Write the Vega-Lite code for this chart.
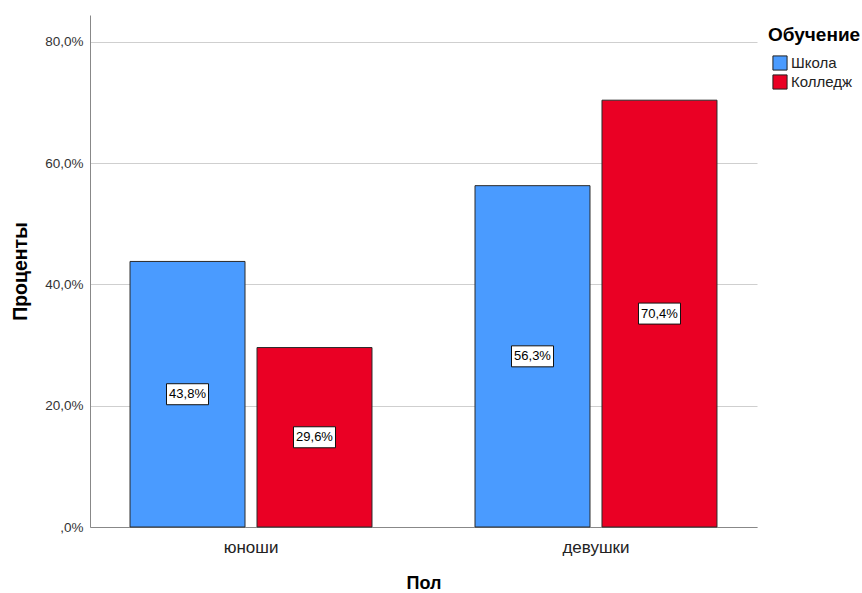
{
  "$schema": "https://vega.github.io/schema/vega-lite/v6.json",
  "autosize": {"type": "none"},
  "padding": {"left": 90, "top": 15, "right": 105, "bottom": 66},
  "width": 667,
  "height": 512,
  "background": "white",
  "config": {
    "font": "Liberation Sans",
    "view": {"stroke": null},
    "locale": {"number": {"decimal": ",", "thousands": " ", "grouping": [3], "currency": ["", " €"]}}
  },
  "data": {
    "values": [
      {"pol": "юноши", "obuchenie": "Школа", "value": 0.438},
      {"pol": "юноши", "obuchenie": "Колледж", "value": 0.296},
      {"pol": "девушки", "obuchenie": "Школа", "value": 0.563},
      {"pol": "девушки", "obuchenie": "Колледж", "value": 0.704}
    ]
  },
  "encoding": {
    "x": {
      "field": "pol", "type": "nominal", "sort": ["юноши", "девушки"],
      "scale": {"paddingInner": 0.2986, "paddingOuter": 0.116},
      "axis": {
        "title": "Пол", "titleFontSize": 18, "titleFontWeight": "bold", "titleColor": "#000",
        "titleX": 333.5, "titleY": 56, "titleBaseline": "middle",
        "labelAngle": 0, "labelFontSize": 17, "labelColor": "#222", "labelPadding": 12,
        "ticks": false, "domainColor": "#888", "grid": false
      }
    },
    "xOffset": {
      "field": "obuchenie", "type": "nominal", "sort": ["Школа", "Колледж"],
      "scale": {"paddingInner": 0.0945, "paddingOuter": 0}
    }
  },
  "layer": [
    {
      "mark": {"type": "bar", "stroke": "#2a2a2a", "strokeWidth": 1},
      "encoding": {
        "y": {
          "field": "value", "type": "quantitative",
          "scale": {"domain": [0, 0.8445], "nice": false, "zero": true},
          "axis": {
            "title": "Проценты", "titleFontSize": 19.5, "titleFontWeight": "bold", "titleColor": "#000",
            "titleX": -70, "titleY": 256, "titleAngle": -90, "titleAlign": "center", "titleBaseline": "middle",
            "values": [0, 0.2, 0.4, 0.6, 0.8],
            "labelExpr": "datum.value == 0 ? ',0%' : replace(format(datum.value, '.1%'), '.', ',')",
            "labelFontSize": 13.5, "labelColor": "#333", "labelPadding": 7,
            "ticks": false, "domainColor": "#888",
            "grid": true, "gridColor": "#cfcfcf", "gridWidth": 1
          }
        },
        "color": {
          "field": "obuchenie", "type": "nominal", "sort": ["Школа", "Колледж"],
          "scale": {"domain": ["Школа", "Колледж"], "range": ["#4a9bff", "#ea0024"]},
          "legend": {
            "title": "Обучение", "orient": "none", "legendX": 678, "legendY": 11,
            "titleFontSize": 19, "titleFontWeight": "bold", "titleColor": "#000", "titlePadding": 10,
            "labelFontSize": 15, "labelColor": "#222", "labelOffset": 3,
            "symbolType": "square", "symbolSize": 200, "symbolOffset": 4, "symbolStrokeColor": "#222", "symbolStrokeWidth": 1,
            "symbolOpacity": 1, "rowPadding": -1, "padding": 0
          }
        }
      }
    },
    {
      "mark": {"type": "point", "shape": "M-1,-0.5L1,-0.5L1,0.5L-1,0.5Z", "size": 1764, "filled": true, "fill": "white", "stroke": "#111", "strokeWidth": 1, "opacity": 1},
      "encoding": {
        "y": {"field": "value", "type": "quantitative", "scale": {"domain": [0, 1.689], "nice": false}, "axis": null}
      }
    },
    {
      "mark": {"type": "text", "fontSize": 13, "color": "#000", "baseline": "middle", "align": "center"},
      "encoding": {
        "y": {"field": "value", "type": "quantitative", "scale": {"domain": [0, 1.689], "nice": false}, "axis": null},
        "text": {"field": "value", "type": "quantitative", "format": ".1%"}
      }
    }
  ],
  "resolve": {"scale": {"y": "independent"}}
}
